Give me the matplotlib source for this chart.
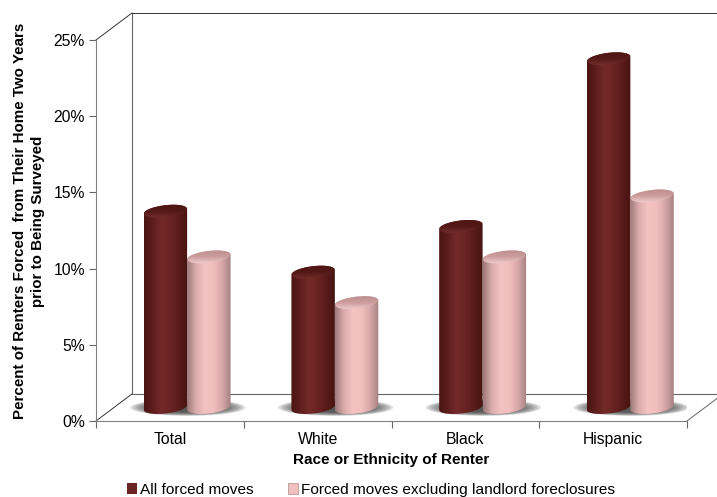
import numpy as np
import matplotlib
matplotlib.use('Agg')
import matplotlib.pyplot as plt
from matplotlib.colors import LinearSegmentedColormap
from matplotlib.patches import Patch, Polygon

plt.rcParams['font.family'] = ['Liberation Sans', 'DejaVu Sans']

categories = ['Total', 'White', 'Black', 'Hispanic']
all_moves = [13, 9, 12, 23]
excl_foreclosures = [10, 7, 10, 14]
y_ticks = [0, 5, 10, 15, 20, 25]

# 3d look, everything in data units (148px per category, 15.24px per percent)
depth_x = 36 / 148
depth_y = 27 / 15.24
bar_w = 43.5 / 148
ell_h = 6 / 15.24
tilt = 2.4 / 15.24
cap_drop = 0.12

dark_cm = LinearSegmentedColormap.from_list('d', ['#4a1512', '#5e1e1c', '#732a28', '#6a2422', '#5a1c1a', '#471411'])
light_cm = LinearSegmentedColormap.from_list('l', ['#9c7878', '#dcacac', '#f4c2c2', '#f2bfbf', '#d8a8a8', '#a58181'])
dark_top = LinearSegmentedColormap.from_list('dt', ['#4c1412', '#551a18', '#7a3230'])
light_top = LinearSegmentedColormap.from_list('lt', ['#b88c8c', '#cb9c9c', '#f7d6d6'])


def ellipse(cx, cy, a, b, s, t):
    return np.column_stack([cx + a * np.cos(t), cy + b * np.sin(t) + s * np.cos(t)])


def draw_shadow(ax, cx, cy):
    # stacked see-through ellipses stand in for the soft floor shadow
    t = np.linspace(0, 2 * np.pi, 60)
    for k in np.linspace(1, 0.5, 12):
        ax.add_patch(Polygon(ellipse(cx, cy, 0.39 * k, 0.55 * k, 0, t), closed=True,
                             fc='#444444', ec='none', alpha=0.16, zorder=2))


def draw_cylinder(ax, x, value, cmap, top_cmap, z):
    a = bar_w / 2
    base = depth_y / 2
    top = base + value - cap_drop
    # body
    t1 = np.linspace(0, np.pi, 60)
    t2 = np.linspace(np.pi, 2 * np.pi, 60)
    body = np.vstack([ellipse(x, top, a, ell_h, tilt, t1), ellipse(x, base, a, ell_h, tilt, t2)])
    poly = Polygon(body, closed=True, transform=ax.transData, fc='none', ec='none')
    ax.add_patch(poly)
    im = ax.imshow(np.linspace(0, 1, 128)[None, :], cmap=cmap, aspect='auto', zorder=z,
                   extent=[x - a, x + a, base - 1, top + 1], interpolation='bilinear')
    im.set_clip_path(poly)
    # top cap
    t = np.linspace(0, 2 * np.pi, 100)
    cap = Polygon(ellipse(x, top, a * 0.98, ell_h, tilt, t), closed=True, transform=ax.transData, fc='none', ec='none')
    ax.add_patch(cap)
    im2 = ax.imshow(np.linspace(1, 0, 64)[:, None], cmap=top_cmap, aspect='auto', zorder=z + 0.5,
                    extent=[x - a, x + a, top - ell_h - tilt, top + ell_h + tilt], origin='lower',
                    interpolation='bilinear')
    im2.set_clip_path(cap)


fig = plt.figure(figsize=(7.17, 4.97), dpi=100)
ax = fig.add_axes([96 / 717, 1 - 421 / 497, 591 / 717, 381 / 497])
xs = np.arange(len(categories)) + 0.5

# back wall and floor
wall_c = '#333333'
ax.plot([depth_x, depth_x, 4 + depth_x], [25 + depth_y, depth_y, depth_y], color='#666666', lw=0.8, clip_on=False, zorder=1)
ax.plot([depth_x, 4 + depth_x], [25 + depth_y, 25 + depth_y], color=wall_c, lw=0.7, clip_on=False, zorder=1)
ax.plot([0, depth_x], [25, 25 + depth_y], color=wall_c, lw=0.7, clip_on=False, zorder=1)
ax.plot([0, depth_x], [0, depth_y], color=wall_c, lw=0.7, clip_on=False, zorder=1)
ax.plot([4, 4 + depth_x], [0, depth_y], color='#666666', lw=0.7, clip_on=False, zorder=1)

for i, x in enumerate(xs):
    cx = x + depth_x / 2
    draw_shadow(ax, cx, depth_y / 2)
    draw_cylinder(ax, cx - bar_w / 2 - 0.005, all_moves[i], dark_cm, dark_top, 3)
    draw_cylinder(ax, cx + bar_w / 2 - 0.005, excl_foreclosures[i], light_cm, light_top, 4)

ax.set_xlim(0, 4)
ax.set_ylim(0, 25)
ax.set_xticks(np.arange(5))
ax.set_xticklabels([])
ax.set_xticks(xs, minor=True)
ax.set_xticklabels(categories, minor=True)
ax.tick_params(axis='x', which='minor', length=0, labelsize=11.3, pad=8)
ax.tick_params(axis='x', which='major', length=5, color='#666666', width=0.8, direction='out')
ax.set_yticks(y_ticks)
ax.set_yticklabels([f'{v}%' for v in y_ticks])
ax.tick_params(axis='y', length=5, color='#666666', width=0.8, labelsize=11.3, pad=3)
ax.spines['top'].set_visible(False)
ax.spines['right'].set_visible(False)
ax.spines['left'].set_color('#808080')
ax.spines['bottom'].set_color('#808080')
ax.patch.set_alpha(0)

ax.set_xlabel('Race or Ethnicity of Renter', fontsize=11, fontweight='bold', labelpad=4)
ax.set_ylabel('Percent of Renters Forced  from Their Home Two Years\nprior to Being Surveyed',
              fontsize=10.9, fontweight='bold', linespacing=1.4)
ax.yaxis.set_label_coords(-51 / 591, 0.525)

handles = [Patch(fc='#6a2422', ec='none', label='All forced moves'),
           Patch(fc='#f2bfbf', ec='#b08a8a', lw=0.5, label='Forced moves excluding landlord foreclosures')]
fig.legend(handles=handles, loc='lower left', bbox_to_anchor=(124 / 717, -0.006), ncol=2, frameon=False,
           fontsize=11.1, handlelength=0.65, handleheight=0.65, handletextpad=0.2, columnspacing=2.2,
           borderpad=0.1, borderaxespad=0.1)

fig.savefig('out.png', dpi=100)
